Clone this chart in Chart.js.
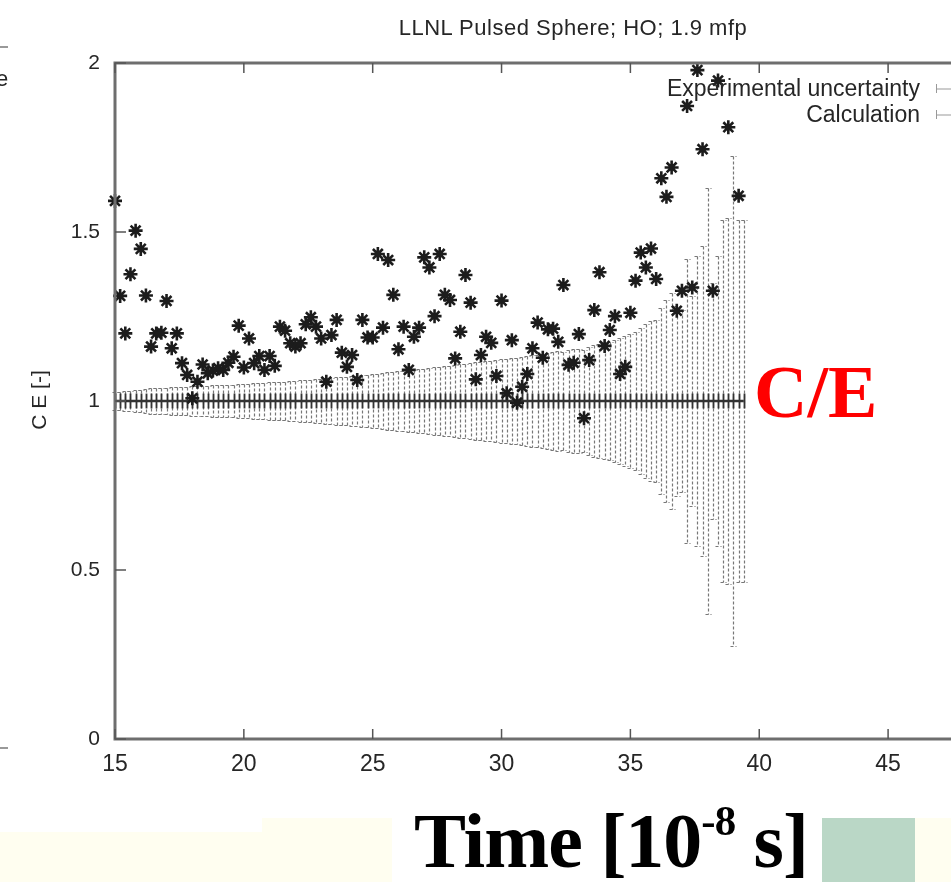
<!DOCTYPE html>
<html>
<head>
<meta charset="utf-8">
<script src="https://cdn.jsdelivr.net/npm/chart.js@4"></script>
<style>
  html, body { margin: 0; padding: 0; background: #fff; }
  body { width: 951px; height: 882px; overflow: hidden; position: relative; font-family: "Liberation Sans", Arial, sans-serif; }
  #wrap { position: absolute; left: 0; top: 0; }
  .txt { position: absolute; white-space: nowrap; color: #262626; }
  .band { position: absolute; }
</style>
</head>
<body>
<div id="wrap"><canvas id="chart" width="975" height="882"></canvas></div>

<!-- slide decoration -->
<div class="band" style="left:0;top:832px;width:262px;height:50px;background:#fffef0"></div>
<div class="band" style="left:262px;top:818px;width:130px;height:64px;background:#fffef0"></div>
<div class="band" style="left:822px;top:818px;width:93px;height:64px;background:#bad7c6"></div>
<div class="band" style="left:915px;top:818px;width:36px;height:64px;background:#fffef0"></div>
<div class="band" style="left:0;top:46px;width:8px;height:2px;background:#999"></div>
<div class="band" style="left:0;top:747px;width:8px;height:2px;background:#999"></div>
<div class="txt" style="left:-4px;top:66px;font-size:22px;">e</div>

<div class="txt" style="left:0;width:1146px;text-align:center;top:15px;font-size:22px;letter-spacing:0.5px;">LLNL Pulsed Sphere; HO; 1.9 mfp</div>
<div class="txt" style="left:0;width:920px;text-align:right;top:75px;font-size:23px;">Experimental uncertainty</div>
<div class="txt" style="left:0;width:920px;text-align:right;top:101px;font-size:23px;">Calculation</div>
<div class="txt" style="left:2px;top:389px;font-size:21px;transform:rotate(-90deg);transform-origin:36px 11px;width:72px;text-align:center;">C E [-]</div>
<div class="txt" style="left:754px;top:355px;font-family:'Liberation Serif','Times New Roman',serif;font-weight:bold;font-size:74px;color:#ff0000;line-height:1;">C/E</div>
<div class="txt" style="left:414px;top:800px;font-family:'Liberation Serif','Times New Roman',serif;font-weight:bold;font-size:78px;color:#000;line-height:1;letter-spacing:-1px;">Time [10<sup style="font-size:0.55em;vertical-align:0.75em;">-8</sup> s]</div>

<script>
// time bins [10^-8 s]
let times = [
    15.0, 15.2, 15.4, 15.6, 15.8, 16.0, 16.2, 16.4, 16.6, 16.8,
    17.0, 17.2, 17.4, 17.6, 17.8, 18.0, 18.2, 18.4, 18.6, 18.8,
    19.0, 19.2, 19.4, 19.6, 19.8, 20.0, 20.2, 20.4, 20.6, 20.8,
    21.0, 21.2, 21.4, 21.6, 21.8, 22.0, 22.2, 22.4, 22.6, 22.8,
    23.0, 23.2, 23.4, 23.6, 23.8, 24.0, 24.2, 24.4, 24.6, 24.8,
    25.0, 25.2, 25.4, 25.6, 25.8, 26.0, 26.2, 26.4, 26.6, 26.8,
    27.0, 27.2, 27.4, 27.6, 27.8, 28.0, 28.2, 28.4, 28.6, 28.8,
    29.0, 29.2, 29.4, 29.6, 29.8, 30.0, 30.2, 30.4, 30.6, 30.8,
    31.0, 31.2, 31.4, 31.6, 31.8, 32.0, 32.2, 32.4, 32.6, 32.8,
    33.0, 33.2, 33.4, 33.6, 33.8, 34.0, 34.2, 34.4, 34.6, 34.8,
    35.0, 35.2, 35.4, 35.6, 35.8, 36.0, 36.2, 36.4, 36.6, 36.8,
    37.0, 37.2, 37.4, 37.6, 37.8, 38.0, 38.2, 38.4, 38.6, 38.8,
    39.0, 39.2, 39.4
];

// relative experimental uncertainty (bar goes from 1-u to 1+u)
let expUnc = [
    0.027, 0.028, 0.029, 0.030, 0.032, 0.034, 0.036, 0.037, 0.038, 0.038,
    0.039, 0.040, 0.041, 0.041, 0.042, 0.043, 0.044, 0.044, 0.045, 0.046,
    0.046, 0.047, 0.048, 0.048, 0.049, 0.050, 0.051, 0.052, 0.052, 0.054,
    0.055, 0.056, 0.057, 0.057, 0.059, 0.060, 0.061, 0.062, 0.063, 0.065,
    0.066, 0.067, 0.068, 0.070, 0.071, 0.072, 0.074, 0.075, 0.077, 0.078,
    0.080, 0.081, 0.083, 0.085, 0.086, 0.088, 0.089, 0.091, 0.093, 0.094,
    0.096, 0.098, 0.100, 0.101, 0.103, 0.105, 0.107, 0.108, 0.110, 0.112,
    0.114, 0.116, 0.118, 0.118, 0.121, 0.123, 0.125, 0.127, 0.126, 0.130,
    0.133, 0.135, 0.137, 0.139, 0.142, 0.144, 0.147, 0.146, 0.150, 0.153,
    0.155, 0.152, 0.160, 0.166, 0.170, 0.172, 0.175, 0.180, 0.186, 0.192,
    0.198, 0.205, 0.215, 0.228, 0.236, 0.240, 0.275, 0.300, 0.320, 0.280,
    0.270, 0.420, 0.310, 0.430, 0.460, 0.630, 0.350, 0.430, 0.535, 0.540,
    0.725, 0.535, 0.535
];

// calculation / experiment (null = off the top of the plot)
let calcCE = [
    1.592, 1.311, 1.200, 1.375, 1.504, 1.450, 1.312, 1.161, 1.200, 1.202,
    1.296, 1.156, 1.200, 1.112, 1.077, 1.008, 1.057, 1.108, 1.082, 1.090,
    1.097, 1.092, 1.113, 1.131, 1.223, 1.099, 1.185, 1.112, 1.133, 1.092,
    1.133, 1.104, 1.220, 1.208, 1.171, 1.161, 1.171, 1.227, 1.248, 1.220,
    1.185, 1.057, 1.195, 1.240, 1.143, 1.101, 1.136, 1.062, 1.240, 1.188,
    1.188, 1.435, 1.217, 1.417, 1.314, 1.153, 1.220, 1.092, 1.190, 1.217,
    1.425, 1.395, 1.251, 1.435, 1.314, 1.299, 1.126, 1.205, 1.373, 1.291,
    1.064, 1.136, 1.190, 1.172, 1.074, 1.297, 1.023, 1.180, 0.995, 1.042,
    1.080, 1.156, 1.232, 1.128, 1.212, 1.214, 1.175, 1.343, 1.107, 1.113,
    1.198, 0.949, 1.121, 1.269, 1.381, 1.163, 1.210, 1.251, 1.080, 1.101,
    1.261, 1.356, 1.439, 1.395, 1.451, 1.361, 1.659, 1.604, 1.691, 1.267,
    1.326, 1.873, 1.336, 1.979, 1.745, null, 1.326, 1.948, null, 1.810,
    null, 1.607, null
];

let xTicks = [15, 20, 25, 30, 35, 40, 45];
let yTicks = [0, 0.5, 1, 1.5, 2];

// gnuplot style error bars, centre line, border and inward ticks
const gnuplotBits = {
    id: 'gnuplotBits',
    beforeDatasetsDraw(chart) {
        let ctx = chart.ctx;
        let x = chart.scales.x, y = chart.scales.y;
        ctx.save();

        // experimental uncertainty, dashed grey
        ctx.strokeStyle = '#777';
        ctx.lineWidth = 1.2;
        ctx.setLineDash([3, 2]);
        times.forEach((t, i) => {
            let px = Math.round(x.getPixelForValue(t)) + 0.5;
            let top = Math.round(y.getPixelForValue(1 + expUnc[i])) + 0.5;
            let bot = Math.round(y.getPixelForValue(1 - expUnc[i])) + 0.5;
            ctx.beginPath();
            ctx.moveTo(px, top); ctx.lineTo(px, bot);
            ctx.moveTo(px - 3, top); ctx.lineTo(px + 3, top);
            ctx.moveTo(px - 3, bot); ctx.lineTo(px + 3, bot);
            ctx.stroke();
        });

        // dark ticks and line at C/E = 1
        ctx.setLineDash([]);
        ctx.strokeStyle = '#333';
        ctx.lineWidth = 1.8;
        let y1 = y.getPixelForValue(1);
        times.forEach(t => {
            let px = Math.round(x.getPixelForValue(t)) + 0.5;
            ctx.beginPath();
            ctx.moveTo(px, y.getPixelForValue(1.022));
            ctx.lineTo(px, y.getPixelForValue(0.978));
            ctx.stroke();
        });
        ctx.lineWidth = 2.5;
        ctx.beginPath();
        ctx.moveTo(x.getPixelForValue(times[0]), y1);
        ctx.lineTo(x.getPixelForValue(times[times.length - 1]), y1);
        ctx.stroke();
        ctx.restore();
    },
    afterDraw(chart) {
        let ctx = chart.ctx;
        let a = chart.chartArea;
        let x = chart.scales.x, y = chart.scales.y;
        ctx.save();
        ctx.strokeStyle = '#6e6e6e';
        ctx.lineWidth = 3;
        ctx.beginPath();
        ctx.moveTo(a.right + 5, a.top);
        ctx.lineTo(a.left, a.top);
        ctx.lineTo(a.left, a.bottom);
        ctx.lineTo(a.right + 5, a.bottom);
        ctx.stroke();

        ctx.lineWidth = 1.5;
        ctx.strokeStyle = '#555';
        ctx.beginPath();
        xTicks.forEach(v => {
            let px = x.getPixelForValue(v);
            ctx.moveTo(px, a.bottom); ctx.lineTo(px, a.bottom - 10);
            ctx.moveTo(px, a.top); ctx.lineTo(px, a.top + 10);
        });
        yTicks.forEach(v => {
            let py = y.getPixelForValue(v);
            ctx.moveTo(a.left, py); ctx.lineTo(a.left + 11, py);
        });
        ctx.stroke();

        // small legend keys, mostly cut off at the page edge
        ctx.strokeStyle = '#999';
        ctx.lineWidth = 1;
        ctx.beginPath();
        ctx.moveTo(936.5, 84); ctx.lineTo(936.5, 93);
        ctx.moveTo(936.5, 89); ctx.lineTo(951, 89);
        ctx.moveTo(936.5, 110); ctx.lineTo(936.5, 119);
        ctx.moveTo(936.5, 115); ctx.lineTo(951, 115);
        ctx.stroke();
        ctx.restore();
    }
};

let points = [];
times.forEach((t, i) => {
    if (calcCE[i] !== null) points.push({x: t, y: calcCE[i]});
});

new Chart(document.getElementById('chart'), {
    type: 'scatter',
    data: {
        datasets: [{
            label: 'Calculation',
            data: points,
            pointStyle: 'star',
            pointRadius: 7,
            pointBorderWidth: 2.6,
            borderColor: '#1c1c1c',
            backgroundColor: '#1c1c1c',
            clip: false
        }]
    },
    options: {
        responsive: false,
        animation: false,
        events: [],
        layout: {padding: {left: 0, top: 63, right: 0, bottom: 103}},
        plugins: {legend: {display: false}, tooltip: {enabled: false}},
        scales: {
            x: {
                type: 'linear',
                min: 15,
                max: 48,
                afterFit: s => { s.height = 40; },
                afterBuildTicks: s => { s.ticks = xTicks.map(v => ({value: v})); },
                grid: {display: false, drawTicks: false},
                border: {display: false},
                ticks: {
                    padding: 12,
                    color: '#262626',
                    font: {family: "'Liberation Sans Narrow', 'Liberation Sans', sans-serif", size: 23}
                }
            },
            y: {
                min: 0,
                max: 2,
                afterFit: s => { s.width = 115; },
                afterBuildTicks: s => { s.ticks = yTicks.map(v => ({value: v})); },
                grid: {display: false, drawTicks: false},
                border: {display: false},
                ticks: {
                    padding: 15,
                    color: '#262626',
                    font: {family: "'Liberation Sans', sans-serif", size: 21},
                    callback: v => String(v)
                }
            }
        }
    },
    plugins: [gnuplotBits]
});
</script>
</body>
</html>
